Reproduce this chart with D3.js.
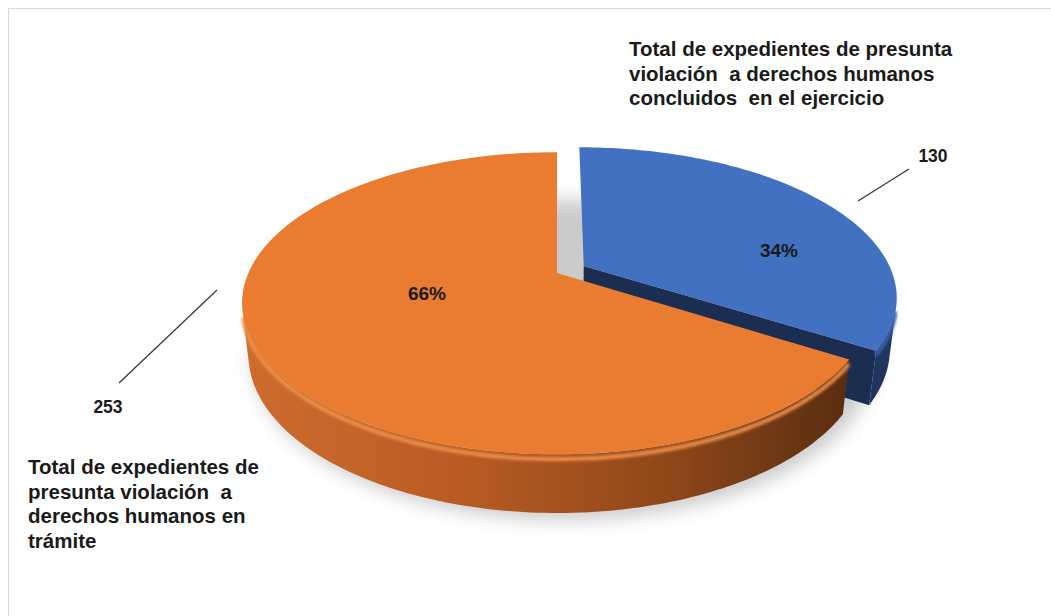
<!DOCTYPE html>
<html><head><meta charset="utf-8">
<script src="https://cdn.jsdelivr.net/npm/d3@7"></script>
<style>body{margin:0;background:#fff;} svg{display:block;font-family:"Liberation Sans",Arial,sans-serif;} text{white-space:pre;}</style>
</head><body><svg id="c" width="1051" height="616"></svg>
<script>
// ---- data ----
const categories = [
  "Total de expedientes de presunta violación  a derechos humanos concluidos  en el ejercicio",
  "Total de expedientes de presunta violación  a derechos humanos en trámite"
];
const values = [130, 253];
const categoryLines = [
  ["Total de expedientes de presunta", "violación  a derechos humanos", "concluidos  en el ejercicio"],
  ["Total de expedientes de", "presunta violación  a", "derechos humanos en", "trámite"]
];
const topColors = ["#4371c2", "#ea7c31"];

// ---- projection of a tilted disc with perspective ----
const cx = 557, cy = 273, F = 1361, Dcam = 4.41, sinA = 0.47, cosA = Math.sqrt(1 - sinA * sinA), H = 0.19;
function proj(X, Y, Z) {
  const depth = Dcam - Y * sinA + Z * cosA;
  return [cx + F * X / depth, cy - F * (Y * cosA + Z * sinA) / depth];
}
function rimPts(a0, a1, Y, ox, oz, n) {
  const pts = [];
  for (let i = 0; i <= n; i++) { const t = a0 + (a1 - a0) * i / n; pts.push(proj(ox + Math.sin(t), Y, oz + Math.cos(t))); }
  return pts;
}
function sideVisible(t, ox, oz) {
  const nx = Math.sin(t), nz = Math.cos(t);
  const px = ox + nx, pz = oz + nz;
  return (0 - px) * nx + (-Dcam * cosA - pz) * nz > 0;
}

const svg = d3.select("#c");
const defs = svg.append("defs");
defs.append("filter").attr("id", "shadow").attr("x", "-30%").attr("y", "-30%").attr("width", "160%").attr("height", "160%")
  .append("feGaussianBlur").attr("stdDeviation", 9);
defs.append("filter").attr("id", "soft").attr("x", "-10%").attr("y", "-10%").attr("width", "120%").attr("height", "120%")
  .append("feGaussianBlur").attr("stdDeviation", 1.6);

const og = defs.append("linearGradient").attr("id", "orangeSide").attr("gradientUnits", "userSpaceOnUse")
  .attr("x1", 245).attr("y1", 0).attr("x2", 850).attr("y2", 0);
[[0, "#cd6c2d"], [0.35, "#b95c24"], [0.7, "#8f4719"], [1, "#592d10"]].forEach(s => og.append("stop").attr("offset", s[0]).attr("stop-color", s[1]));
const bg = defs.append("linearGradient").attr("id", "blueSide").attr("gradientUnits", "userSpaceOnUse")
  .attr("x1", 840).attr("y1", 0).attr("x2", 900).attr("y2", 0);
[[0, "#1a2c4e"], [1, "#22396a"]].forEach(s => bg.append("stop").attr("offset", s[0]).attr("stop-color", s[1]));

// chart border
svg.append("rect").attr("x", 8.5).attr("y", 8.5).attr("width", 1100).attr("height", 700)
  .attr("fill", "none").attr("stroke", "#d9d9d9");

const pie = d3.pie().sort(null).value(d => d).startAngle(0).endAngle(2 * Math.PI);
const arcs = pie(values);
const explode = [0.1, 0];
const line = d3.line();
const N = 120;

// soft shadow under the pie
svg.append("path")
  .attr("d", line(rimPts(0, 2 * Math.PI, -H, 0.02, -0.03, 180)) + "Z")
  .attr("fill", "#000").attr("opacity", 0.2).attr("filter", "url(#shadow)");

const layers = svg.append("g");

function drawSlice(d, i) {
  const mid = (d.startAngle + d.endAngle) / 2;
  const ox = explode[i] * Math.sin(mid), oz = explode[i] * Math.cos(mid);
  const g = layers.append("g");
  const faceCol = i === 0 ? "#1b2e51" : "#9a4a1b";
  // radial faces
  const C = [-ox, -Dcam * cosA - oz];
  const faces = [
    { a: d.startAngle, n: [-Math.cos(d.startAngle), Math.sin(d.startAngle)] },
    { a: d.endAngle, n: [Math.cos(d.endAngle), -Math.sin(d.endAngle)] }
  ];
  faces.forEach(f => {
    if (C[0] * f.n[0] + C[1] * f.n[1] > 0.2) {
      const pts = [proj(ox, 0, oz), proj(ox + Math.sin(f.a), 0, oz + Math.cos(f.a)),
                   proj(ox + Math.sin(f.a), -H, oz + Math.cos(f.a)), proj(ox, -H, oz)];
      g.append("path").attr("d", line(pts) + "Z").attr("fill", faceCol);
    }
  });
  // outer side
  const vis = [];
  for (let k = 0; k <= 400; k++) {
    const t = d.startAngle + (d.endAngle - d.startAngle) * k / 400;
    if (sideVisible(t, ox, oz)) vis.push(t);
  }
  if (vis.length > 1) {
    const a0 = vis[0], a1 = vis[vis.length - 1];
    const pts = rimPts(a0, a1, 0, ox, oz, N).concat(rimPts(a1, a0, -H, ox, oz, N));
    g.append("path").attr("d", line(pts) + "Z").attr("fill", i === 0 ? "url(#blueSide)" : "url(#orangeSide)");
    // bevel highlight along the top front rim
    g.append("path").attr("d", line(rimPts(a0, a1, -0.015, ox, oz, N)))
      .attr("fill", "none").attr("stroke", i === 0 ? "#3a63ad" : "#f0904c").attr("stroke-width", 4)
      .attr("filter", "url(#soft)");
  }
  // top
  const top = [proj(ox, 0, oz)].concat(rimPts(d.startAngle, d.endAngle, 0, ox, oz, N));
  g.append("path").attr("d", line(top) + "Z").attr("fill", topColors[i]);
}
drawSlice(arcs[0], 0);
drawSlice(arcs[1], 1);

// percentage labels
const total = d3.sum(values);
const pctPos = [[779, 257], [427, 300]];
arcs.forEach((d, i) => {
  svg.append("text").attr("x", pctPos[i][0]).attr("y", pctPos[i][1]).attr("text-anchor", "middle")
    .attr("font-size", 19).attr("font-weight", "bold").attr("fill", "#1a1a1a")
    .text(Math.round(d.value / total * 100) + "%");
});

// value labels and leader lines
const leaders = [[[858, 201], [909, 169]], [[217, 290], [119, 383]]];
const valPos = [[933, 162], [108, 413]];
leaders.forEach(l => svg.append("line").attr("x1", l[0][0]).attr("y1", l[0][1]).attr("x2", l[1][0]).attr("y2", l[1][1])
  .attr("stroke", "#3a3a3a").attr("stroke-width", 1.3));
values.forEach((v, i) => {
  svg.append("text").attr("x", valPos[i][0]).attr("y", valPos[i][1]).attr("text-anchor", "middle")
    .attr("font-size", 17.5).attr("font-weight", "bold").attr("fill", "#1a1a1a").text(v);
});

// category labels
const catPos = [[629, 56], [28, 474]];
categoryLines.forEach((lines, i) => {
  const t = svg.append("text").attr("font-size", 20.5).attr("font-weight", "bold").attr("fill", "#1a1a1a")
    .attr("xml:space", "preserve");
  lines.forEach((s, j) => t.append("tspan").attr("x", catPos[i][0]).attr("y", catPos[i][1] + j * 24.5).text(s));
});
</script>
</body></html>
